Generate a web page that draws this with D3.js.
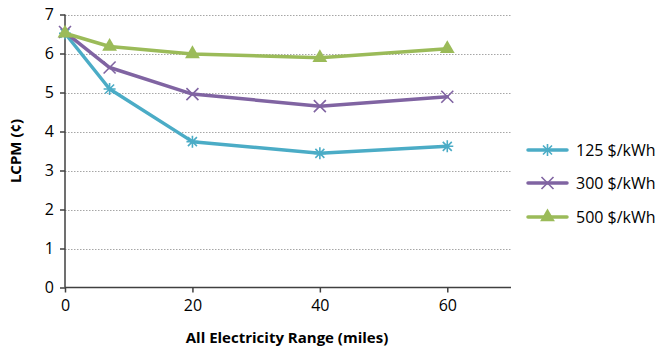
<!DOCTYPE html>
<html>
<head>
<meta charset="utf-8">
<script src="https://cdn.jsdelivr.net/npm/d3@7"></script>
<style>
  body { margin: 0; background: #fff; }
  svg { font-family: "Open Sans", "Liberation Sans", sans-serif; }
</style>
</head>
<body>
<svg id="chart" width="659" height="352"></svg>
<script>
const ranges = [0, 7, 20, 40, 60];
const seriesNames = ['125 $/kWh', '300 $/kWh', '500 $/kWh'];
const lcpm125 = [6.52, 5.09, 3.74, 3.44, 3.62];
const lcpm300 = [6.55, 5.64, 4.96, 4.65, 4.89];
const lcpm500 = [6.52, 6.18, 5.99, 5.89, 6.12];
const xTicks = [0, 20, 40, 60];
const yTicks = [0, 1, 2, 3, 4, 5, 6, 7];

const COLORS = ['#4BACC6', '#8064A2', '#9BBB59'];
const MARKERS = ['star', 'cross', 'tri'];

const svg = d3.select('#chart');
const x = d3.scaleLinear().domain([0, 70]).range([65, 511]);
const y = d3.scaleLinear().domain([0, 7]).range([287.5, 14.5]);

// gridlines
svg.append('g').selectAll('line').data(yTicks.filter(t => t > 0)).join('line')
  .attr('x1', x(0)).attr('x2', x(70))
  .attr('y1', d => Math.round(y(d)) + 0.5).attr('y2', d => Math.round(y(d)) + 0.5)
  .attr('stroke', '#a6a6a6').attr('stroke-width', 1).attr('stroke-dasharray', '1.5 1.5');

// axes
const xAxis = svg.append('g').attr('transform', `translate(0,${y(0)})`)
  .call(d3.axisBottom(x).tickValues(xTicks).tickFormat(d3.format('d')).tickSize(5).tickPadding(7));
const yAxis = svg.append('g').attr('transform', `translate(${x(0)},0)`)
  .call(d3.axisLeft(y).tickValues(yTicks).tickFormat(d3.format('d')).tickSize(5).tickPadding(6));
[xAxis, yAxis].forEach(a => {
  a.select('.domain').attr('stroke', '#404040').attr('stroke-width', 1.5);
  a.selectAll('.tick line').attr('stroke', '#404040').attr('stroke-width', 1.5);
  a.selectAll('.tick text').attr('fill', '#000').style('font-size', '16px')
    .style('font-family', '"Open Sans", "Liberation Sans", sans-serif');
});
xAxis.select('.domain').attr('d', `M${x(0)},0H${x(70)}`);
yAxis.select('.domain').attr('d', `M0,${y(0)}V${y(7)}`);

// titles
svg.append('text').attr('x', 287).attr('y', 343).attr('text-anchor', 'middle')
  .style('font-size', '15px').style('font-weight', 'bold').text('All Electricity Range (miles)');
svg.append('text').attr('transform', 'translate(21,151) rotate(-90)').attr('text-anchor', 'middle')
  .style('font-size', '15px').style('font-weight', 'bold').text('LCPM (¢)');

function drawMarker(g, type, color) {
  if (type === 'star') {
    g.append('path').attr('d', 'M-6,0H6M0,-6V6M-4.5,-4.5L4.5,4.5M-4.5,4.5L4.5,-4.5')
      .attr('stroke', color).attr('stroke-width', 1.6).attr('fill', 'none');
  } else if (type === 'cross') {
    g.append('path').attr('d', 'M-6,-6L6,6M-6,6L6,-6')
      .attr('stroke', color).attr('stroke-width', 1.6).attr('fill', 'none');
  } else {
    g.append('path').attr('d', d3.symbol().type(d3.symbolTriangle).size(95)())
      .attr('fill', color);
  }
}

const allSeries = [lcpm125, lcpm300, lcpm500];
const line = d3.line().x((d, i) => x(ranges[i])).y(d => y(d));

allSeries.forEach((vals, s) => {
  svg.append('path').datum(vals).attr('d', line)
    .attr('fill', 'none').attr('stroke', COLORS[s]).attr('stroke-width', 3.5)
    .attr('stroke-linejoin', 'round').attr('stroke-linecap', 'round');
  vals.forEach((v, i) => {
    const g = svg.append('g').attr('transform', `translate(${x(ranges[i])},${y(v)})`);
    drawMarker(g, MARKERS[s], COLORS[s]);
  });
});

// legend
const legendY = [150, 183, 217];
seriesNames.forEach((name, s) => {
  const g = svg.append('g').attr('transform', `translate(0,${legendY[s]})`);
  g.append('line').attr('x1', 528).attr('x2', 567).attr('y1', 0).attr('y2', 0)
    .attr('stroke', COLORS[s]).attr('stroke-width', 3.5).attr('stroke-linecap', 'round');
  const m = g.append('g').attr('transform', 'translate(547.5,0)');
  drawMarker(m, MARKERS[s], COLORS[s]);
  g.append('text').attr('x', 576).attr('y', 6).style('font-size', '16px').text(name);
});
</script>
</body>
</html>
